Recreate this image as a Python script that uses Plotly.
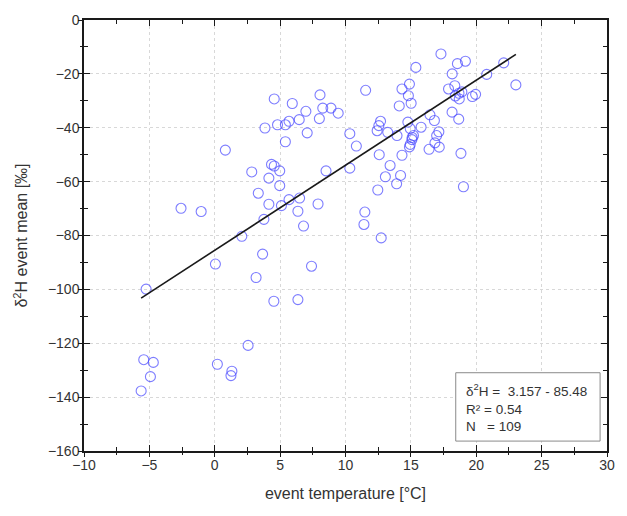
import plotly.graph_objects as go

# event temperature [°C] and δ2H event mean [‰]
temp = [4.55, 3.84, 4.8, 0.81, 4.34, 4.55, 2.83, 4.14, 4.97, 3.33,
        4.14, -2.58, -1.04, 3.76, 17.3, 18.56, 19.17, 22.1, 15.38, 18.16,
        20.8, 23.03, 14.89, 14.32, 11.54, 18.36, 17.88, 14.81, 18.68, 18.9,
        18.7, 19.7, 19.95, 15.02, 14.11, 8.05, 5.93, 8.26, 8.89, 9.44,
        6.97, 6.46, 8.0, 5.68, 5.4, 18.15, 18.66, 16.46, 16.8, 12.68,
        12.55, 12.42, 13.23, 10.33, 14.77, 14.95, 15.78, 17.14, 16.97, 13.94,
        15.2, 15.08, 14.95, 14.89, 16.84, 17.17, 16.39, 10.83, 14.32, 12.58,
        18.83, 4.97, 8.51, 10.33, 13.41, 13.05, 14.21, 13.91, 12.47, 19.02,
        5.68, 6.49, 5.1, 6.36, 7.9, 11.48, 11.41, 6.79, 12.73, 7.4,
        6.36, 2.07, 3.66, 0.05, 3.16, -5.25, 4.52, 2.55, -5.43, -4.7,
        0.2, 1.31, 1.24, -4.92, -5.63, 7.07, 5.4, 18.4, 15.1]
d2h = [-29.3, -40.1, -38.9, -48.3, -53.6, -54.2, -56.4, -58.7, -61.5, -64.3,
       -68.4, -69.9, -71.1, -74.0, -12.6, -16.2, -15.3, -15.9, -17.6, -20.0,
       -20.2, -24.1, -23.8, -25.6, -26.1, -24.4, -25.6, -28.1, -27.2, -26.7,
       -29.3, -28.4, -27.6, -30.9, -31.9, -27.8, -31.0, -32.7, -32.7, -34.6,
       -33.9, -37.0, -36.6, -37.6, -38.9, -34.2, -36.8, -35.2, -37.3, -37.6,
       -39.2, -41.1, -41.7, -42.2, -37.9, -40.3, -39.8, -41.5, -42.9, -42.9,
       -42.9, -44.4, -46.2, -47.1, -45.6, -47.2, -48.0, -46.8, -50.2, -50.0,
       -49.5, -56.0, -56.0, -55.0, -54.0, -58.2, -57.7, -60.8, -63.1, -61.9,
       -66.7, -66.1, -68.9, -71.0, -68.3, -71.3, -75.9, -76.5, -80.9, -91.4,
       -103.8, -80.3, -86.9, -90.6, -95.6, -99.9, -104.4, -120.8, -126.1, -127.1,
       -127.8, -130.4, -132.0, -132.4, -137.7, -41.9, -45.2, -28.2, -43.6]

slope = 3.157
intercept = -85.48
r2 = 0.54
n_events = 109

x_range = [-10, 30]
y_range = [-160, 0]
x_ticks = [-10, -5, 0, 5, 10, 15, 20, 25, 30]
y_ticks = [0, -20, -40, -60, -80, -100, -120, -140, -160]

FONT = "Liberation Sans, Arial, sans-serif"

fit_x = [min(temp), max(temp)]
fit_y = [slope * v + intercept for v in fit_x]

fig = go.Figure()
fig.add_trace(go.Scatter(
    x=temp, y=d2h, mode="markers",
    marker=dict(symbol="circle-open", size=10, color="rgba(70,70,255,0.7)",
                line=dict(width=1.1, color="rgba(70,70,255,0.7)")),
    showlegend=False, hoverinfo="x+y"))
fig.add_trace(go.Scatter(
    x=fit_x, y=fit_y, mode="lines",
    line=dict(color="#1a1a1a", width=1.6), showlegend=False))
# invisible trace on overlay axes to carry outside ticks
fig.add_trace(go.Scatter(x=fit_x, y=fit_y, xaxis="x2", yaxis="y2", mode="lines",
                         line=dict(width=0), opacity=0, showlegend=False,
                         hoverinfo="skip"))

common = dict(showline=True, linecolor="#1a1a1a", linewidth=1.5,
              tickcolor="#1a1a1a", tickwidth=1.3, zeroline=False)

fig.update_layout(
    width=627, height=516,
    margin=dict(l=84, r=14, t=16, b=65),
    paper_bgcolor="white", plot_bgcolor="white",
    font=dict(family=FONT, size=14, color="#333333"),
    xaxis=dict(range=x_range, tickvals=x_ticks, ticks="inside", ticklen=6,
               mirror="ticks", showgrid=True, gridcolor="#d8d8d8", griddash="dot",
               gridwidth=1,
               minor=dict(dtick=2.5, ticks="inside", ticklen=4, tickcolor="#1a1a1a",
                          tickwidth=1.1, showgrid=False),
               title=dict(text="event temperature [°C]", font=dict(size=16, color="#333333"),
                          standoff=16),
               **common),
    yaxis=dict(range=y_range, tickvals=y_ticks, ticks="inside", ticklen=6,
               mirror="ticks", showgrid=True, gridcolor="#d8d8d8", griddash="dot",
               gridwidth=1,
               minor=dict(dtick=10, ticks="inside", ticklen=4, tickcolor="#1a1a1a",
                          tickwidth=1.1, showgrid=False),
               title=dict(text="δ<sup>2</sup>H event mean [‰]",
                          font=dict(size=16, color="#333333"), standoff=16),
               **common),
    xaxis2=dict(range=x_range, tickvals=x_ticks, ticks="outside", ticklen=5,
                overlaying="x", side="bottom", showticklabels=False, showgrid=False,
                showline=False, zeroline=False, tickcolor="#1a1a1a", tickwidth=1.3,
                minor=dict(dtick=2.5, ticks="outside", ticklen=3, tickcolor="#1a1a1a",
                           tickwidth=1.1, showgrid=False),
                anchor="y2"),
    yaxis2=dict(range=y_range, tickvals=y_ticks, ticks="outside", ticklen=5,
                overlaying="y", side="left", showticklabels=False, showgrid=False,
                showline=False, zeroline=False, tickcolor="#1a1a1a", tickwidth=1.3,
                minor=dict(dtick=10, ticks="outside", ticklen=3, tickcolor="#1a1a1a",
                           tickwidth=1.1, showgrid=False),
                anchor="x2"),
)

# statistics box
fig.add_shape(type="rect", xref="paper", yref="paper",
              x0=(460 - 84) / 529, x1=(606 - 84) / 529,
              y0=(451 - 441) / 435, y1=(451 - 372) / 435,
              line=dict(color="#8a8a8a", width=1), fillcolor="white", layer="above")
lines = [f"δ<sup>2</sup>H =  {slope:.3f} - {abs(intercept):.2f}",
         f"R² = {r2:.2f}",
         f"N   = {n_events}"]
for i, (txt, py) in enumerate(zip(lines, [389, 409, 426])):
    fig.add_annotation(xref="paper", yref="paper", x=(468 - 84) / 529,
                       y=(451 - py) / 435, text=txt, showarrow=False,
                       xanchor="left", yanchor="middle",
                       font=dict(family=FONT, size=13.5, color="#333333"))

fig.write_html("out.html")
